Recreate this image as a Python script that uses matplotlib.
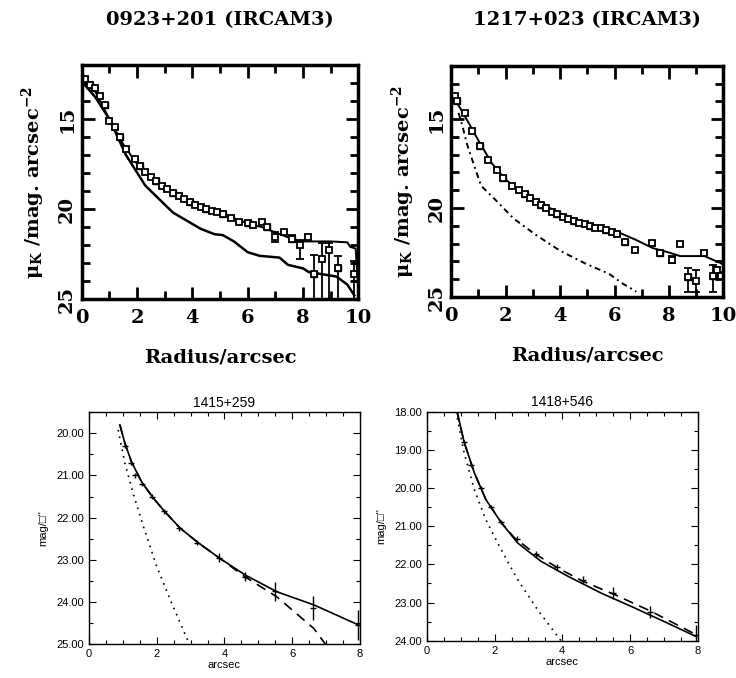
import numpy as np
import matplotlib
matplotlib.use("Agg")
import matplotlib.pyplot as plt
from matplotlib.ticker import MultipleLocator, FormatStrFormatter

plt.rcParams['mathtext.fontset'] = 'custom'
plt.rcParams['mathtext.rm'] = 'DejaVu Serif:bold'
plt.rcParams['mathtext.it'] = 'DejaVu Serif:bold'
plt.rcParams['mathtext.bf'] = 'DejaVu Serif:bold'

# ---- 0923+201 (IRCAM3) ----
r0923 = [0.11, 0.3, 0.47, 0.65, 0.83, 1.0, 1.19, 1.37, 1.61, 1.91, 2.1, 2.3, 2.5, 2.7, 2.9,
         3.1, 3.3, 3.5, 3.7, 3.9, 4.1, 4.3, 4.5, 4.7, 4.9, 5.1, 5.4, 5.7, 6.0, 6.2,
         6.5, 6.7, 7.0, 7.3, 7.6, 7.9, 8.17, 8.4, 8.7, 8.95, 9.27, 9.85]
mu0923 = [12.8, 13.1, 13.3, 13.7, 14.2, 15.1, 15.45, 16.0, 16.65, 17.2, 17.6, 17.95, 18.2, 18.45, 18.7,
          18.9, 19.1, 19.3, 19.45, 19.6, 19.75, 19.9, 20.0, 20.1, 20.15, 20.25, 20.5, 20.7, 20.8, 20.9,
          20.7, 21.0, 21.56, 21.3, 21.65, 22.0, 21.56, 23.6, 22.8, 22.3, 23.3, 23.6]
up0923 = [0.1, 0.1, 0.1, 0.1, 0.1, 0.1, 0.1, 0.1, 0.1, 0.1, 0.1, 0.1, 0.1, 0.1, 0.1,
          0.1, 0.1, 0.1, 0.1, 0.1, 0.1, 0.1, 0.1, 0.1, 0.1, 0.1, 0.1, 0.1, 0.1, 0.1,
          0.1, 0.1, 0.3, 0.1, 0.2, 0.3, 0.1, 1.05, 0.9, 0.4, 0.7, 0.7]
dn0923 = [0.1, 0.1, 0.1, 0.1, 0.1, 0.1, 0.1, 0.1, 0.1, 0.1, 0.1, 0.1, 0.1, 0.1, 0.1,
          0.1, 0.1, 0.1, 0.1, 0.1, 0.1, 0.1, 0.1, 0.1, 0.1, 0.1, 0.1, 0.1, 0.1, 0.1,
          0.1, 0.1, 0.3, 0.1, 0.2, 0.8, 0.1, 1.4, 2.2, 2.7, 1.7, 1.4]
fit_r0923 = [0.0, 0.5, 1.0, 1.5, 2.0, 2.5, 3.0, 3.5, 4.0, 4.5, 5.0, 5.5, 6.0, 6.5, 7.0,
             7.5, 7.8, 8.2, 8.5, 9.0, 9.6, 9.7, 9.9, 10.0]
fit_mu0923 = [12.9, 13.5, 15.0, 16.4, 17.5, 18.2, 18.8, 19.3, 19.7, 20.0, 20.2, 20.5, 20.8, 21.0, 21.3,
              21.6, 21.8, 21.8, 21.8, 21.8, 21.85, 22.1, 22.2, 24.6]
host_r0923 = [0.0, 0.5, 1.0, 1.6, 2.3, 3.3, 4.3, 4.8, 5.1, 5.5, 6.0, 6.43, 7.15, 7.45, 8.0,
              8.2, 9.2, 9.6, 9.85]
host_mu0923 = [12.9, 13.8, 15.0, 17.0, 18.7, 20.2, 21.1, 21.4, 21.45, 21.8, 22.4, 22.6, 22.7, 23.1, 23.3,
               23.5, 23.75, 24.2, 24.8]

# ---- 1217+023 (IRCAM3) ----
r1217 = [0.15, 0.2, 0.51, 0.76, 1.07, 1.36, 1.68, 1.92, 2.23, 2.5, 2.7, 2.9, 3.1, 3.3, 3.5,
         3.7, 3.9, 4.1, 4.3, 4.5, 4.7, 4.9, 5.1, 5.3, 5.5, 5.7, 5.9, 6.1, 6.4, 6.76,
         7.38, 7.68, 8.1, 8.4, 8.7, 9.0, 9.3, 9.6, 9.77, 9.9]
mu1217 = [13.7, 14.0, 14.65, 15.66, 16.5, 17.3, 17.85, 18.3, 18.77, 19.0, 19.2, 19.45, 19.65, 19.85, 20.0,
          20.2, 20.35, 20.5, 20.6, 20.75, 20.85, 20.9, 21.0, 21.1, 21.15, 21.25, 21.35, 21.45, 21.9, 22.35,
          21.98, 22.5, 22.9, 22.0, 23.9, 24.1, 22.5, 23.8, 23.5, 23.8]
up1217 = [0.1, 0.1, 0.1, 0.1, 0.1, 0.1, 0.1, 0.1, 0.1, 0.1, 0.1, 0.1, 0.1, 0.1, 0.1,
          0.1, 0.1, 0.1, 0.1, 0.1, 0.1, 0.1, 0.1, 0.1, 0.1, 0.1, 0.1, 0.1, 0.1, 0.1,
          0.1, 0.1, 0.2, 0.1, 0.55, 0.6, 0.1, 0.6, 0.2, 0.2]
dn1217 = [0.1, 0.1, 0.1, 0.1, 0.1, 0.1, 0.1, 0.1, 0.1, 0.1, 0.1, 0.1, 0.1, 0.1, 0.1,
          0.1, 0.1, 0.1, 0.1, 0.1, 0.1, 0.1, 0.1, 0.1, 0.1, 0.1, 0.1, 0.1, 0.1, 0.1,
          0.1, 0.1, 0.2, 0.1, 0.8, 0.6, 0.1, 0.9, 0.2, 0.2]
fit_r1217 = [0.0, 0.3, 0.6, 1.0, 1.5, 2.0, 2.5, 3.0, 3.5, 4.0, 4.5, 5.0, 5.5, 6.2, 6.8,
             7.4, 8.0, 8.4, 9.3, 9.9, 10.0]
fit_mu1217 = [13.6, 14.3, 15.1, 16.2, 17.5, 18.4, 19.0, 19.5, 19.9, 20.3, 20.6, 20.9, 21.1, 21.4, 21.8,
              22.25, 22.5, 22.7, 22.7, 23.1, 23.2]
host_r1217 = [0.27, 0.4, 0.58, 0.82, 1.1, 1.6, 2.3, 3.1, 4.0, 4.9, 5.8, 6.3, 6.8]
host_mu1217 = [14.65, 15.3, 16.4, 17.5, 18.75, 19.5, 20.6, 21.5, 22.4, 23.1, 23.7, 24.25, 24.7]

# ---- 1415+259 ----
x1415 = [0.91, 1.06, 1.25, 1.55, 1.9, 2.24, 2.69, 3.23, 3.87, 4.61, 5.55, 6.64, 7.97]
solid1415 = [19.8, 20.24, 20.67, 21.15, 21.54, 21.86, 22.25, 22.6, 22.97, 23.36, 23.76, 24.07, 24.55]
dashx1415 = [0.91, 1.06, 1.25, 1.55, 1.9, 2.24, 2.69, 3.23, 3.87, 4.6, 5.55, 6.64, 6.98]
dash1415 = [19.8, 20.24, 20.67, 21.15, 21.54, 21.86, 22.25, 22.6, 22.97, 23.4, 23.88, 24.63, 25.0]
dotx1415 = [0.86, 1.06, 1.3, 1.6, 2.0, 2.44, 2.93]
dot1415 = [19.92, 20.71, 21.42, 22.2, 23.16, 24.03, 24.94]
ptx1415 = [1.06, 1.25, 1.37, 1.55, 1.85, 2.2, 2.65, 3.2, 3.85, 4.6, 5.5, 6.6, 7.95]
pty1415 = [20.3, 20.7, 21.0, 21.2, 21.5, 21.85, 22.25, 22.6, 22.95, 23.4, 23.75, 24.15, 24.55]
pte1415 = [0.05, 0.05, 0.05, 0.05, 0.06, 0.06, 0.06, 0.06, 0.1, 0.1, 0.22, 0.28, 0.35]

# ---- 1418+546 ----
x1418 = [0.89, 1.1, 1.4, 1.74, 2.19, 2.68, 3.37, 4.16, 5.14, 6.13, 7.11, 7.95]
solid1418 = [18.0, 18.8, 19.6, 20.3, 20.9, 21.44, 21.92, 22.31, 22.75, 23.14, 23.54, 23.89]
dashx1418 = [0.89, 1.1, 1.4, 1.74, 2.19, 2.58, 3.22, 3.86, 4.6, 5.54, 6.62, 7.95]
dash1418 = [18.0, 18.8, 19.6, 20.3, 20.9, 21.3, 21.74, 22.09, 22.44, 22.79, 23.23, 23.84]
dotx1418 = [0.86, 1.1, 1.4, 1.74, 2.19, 2.68, 3.27, 3.96]
dot1418 = [18.0, 19.08, 20.04, 20.83, 21.61, 22.4, 23.19, 24.0]
ptx1418 = [1.1, 1.3, 1.6, 1.9, 2.2, 2.65, 3.22, 3.85, 4.6, 5.5, 6.6, 7.95]
pty1418 = [18.8, 19.4, 20.0, 20.5, 20.9, 21.33, 21.72, 22.07, 22.4, 22.75, 23.25, 23.85]
pte1418 = [0.05, 0.05, 0.05, 0.05, 0.05, 0.06, 0.08, 0.08, 0.1, 0.15, 0.15, 0.25]

fig = plt.figure(figsize=(7.36, 6.78), dpi=100)

SERIF = dict(family='DejaVu Serif', fontweight='bold')


def style_top(ax, title):
    ax.set_xlim(0, 10)
    ax.set_ylim(25, 12)
    for s in ax.spines.values():
        s.set_linewidth(2.5)
    ax.xaxis.set_major_locator(MultipleLocator(2))
    ax.xaxis.set_minor_locator(MultipleLocator(1))
    ax.yaxis.set_major_locator(MultipleLocator(5))
    ax.yaxis.set_minor_locator(MultipleLocator(1))
    ax.tick_params(which='both', direction='in', top=True, right=True, width=2)
    ax.tick_params(which='major', length=9)
    ax.tick_params(which='minor', length=6)
    ax.tick_params(axis='x', pad=7)
    ax.tick_params(axis='y', pad=4)
    for lab in ax.get_xticklabels() + ax.get_yticklabels():
        lab.set_fontfamily('DejaVu Serif')
        lab.set_fontweight('bold')
        lab.set_fontsize(14)
    for lab in ax.get_yticklabels():
        lab.set_rotation(90)
        lab.set_va('center')
    ax.set_xlabel('Radius/arcsec', fontsize=14, labelpad=16, **SERIF)
    ax.set_ylabel(r'$\mu_K$ /mag. arcsec$^{-2}$', fontsize=14, labelpad=8, **SERIF)
    ax.set_title(title, fontsize=14, pad=29, **SERIF)


def plot_points(ax, r, mu, up, dn):
    ax.errorbar(r, mu, yerr=[up, dn], fmt='s', ms=5, mfc='white', mec='black',
                mew=1.3, ecolor='black', elinewidth=1.3, capsize=3)
    ax.plot(r[1::3], mu[1::3], 's', ms=5, color='black')


# top-left
ax1 = fig.add_axes([0.111, 0.559, 0.376, 0.345])
plot_points(ax1, r0923, mu0923, up0923, dn0923)
ax1.plot(fit_r0923, fit_mu0923, color='black', lw=1.4)
ax1.plot(host_r0923, host_mu0923, color='black', lw=1.8)
style_top(ax1, '0923+201 (IRCAM3)')

# top-right
ax2 = fig.add_axes([0.613, 0.562, 0.370, 0.341])
plot_points(ax2, r1217, mu1217, up1217, dn1217)
ax2.plot(fit_r1217, fit_mu1217, color='black', lw=1.4)
ax2.plot(host_r1217, host_mu1217, color='black', lw=1.4, linestyle=(0, (3, 2, 1, 2)))
style_top(ax2, '1217+023 (IRCAM3)')

SANS = ['Liberation Sans', 'DejaVu Sans']


def style_bottom(ax, title, ylim):
    ax.set_xlim(0, 8)
    ax.set_ylim(*ylim)
    for s in ax.spines.values():
        s.set_linewidth(1.0)
    ax.xaxis.set_major_locator(MultipleLocator(2))
    ax.xaxis.set_minor_locator(MultipleLocator(0.5))
    ax.yaxis.set_major_locator(MultipleLocator(1))
    ax.yaxis.set_minor_locator(MultipleLocator(0.5))
    ax.yaxis.set_major_formatter(FormatStrFormatter('%.2f'))
    ax.tick_params(which='both', direction='in', top=True, right=True, width=0.8,
                   labelsize=8)
    ax.tick_params(which='major', length=5)
    ax.tick_params(which='minor', length=3)
    for lab in ax.get_xticklabels() + ax.get_yticklabels():
        lab.set_fontfamily(SANS)
    ax.set_xlabel('arcsec', fontsize=8, family=SANS, labelpad=1)
    ax.set_ylabel("mag/\u25a1''", fontsize=8, family=SANS, labelpad=6)
    ax.set_title(title, fontsize=10, family=SANS, pad=4)


# bottom-left
ax3 = fig.add_axes([0.121, 0.050, 0.368, 0.342])
ax3.plot(x1415, solid1415, color='black', lw=1.2)
ax3.plot(dashx1415, dash1415, color='black', lw=1.2, linestyle=(0, (6, 4)))
ax3.plot(dotx1415, dot1415, color='black', lw=1.2, linestyle=(0, (1, 3)))
ax3.errorbar(ptx1415, pty1415, yerr=pte1415, fmt='_', ms=4, color='black', elinewidth=1.0, capsize=0)
style_bottom(ax3, '1415+259', (25, 19.5))

# bottom-right
ax4 = fig.add_axes([0.580, 0.055, 0.368, 0.338])
ax4.plot(x1418, solid1418, color='black', lw=1.2)
ax4.plot(dashx1418, dash1418, color='black', lw=1.2, linestyle=(0, (6, 4)))
ax4.plot(dotx1418, dot1418, color='black', lw=1.2, linestyle=(0, (1, 3)))
ax4.errorbar(ptx1418, pty1418, yerr=pte1418, fmt='_', ms=4, color='black', elinewidth=1.0, capsize=0)
style_bottom(ax4, '1418+546', (24, 18))

fig.savefig('out.png', dpi=100)
